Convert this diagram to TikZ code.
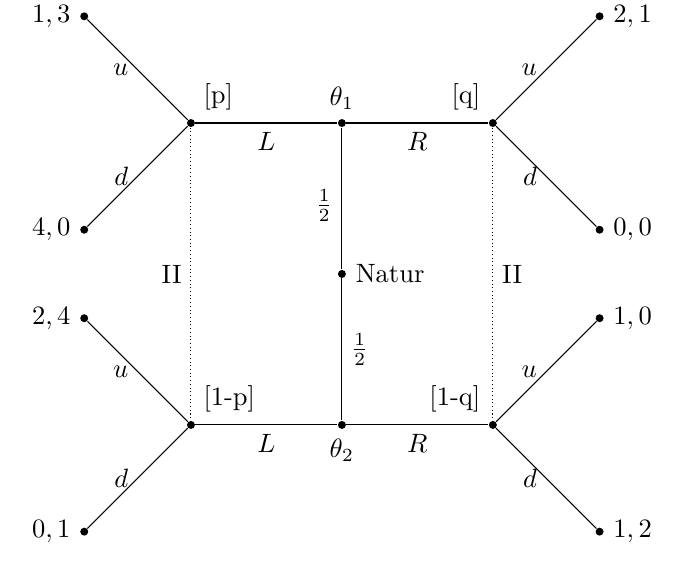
\documentclass[tikz,border=0pt]{standalone}
\begin{document}
\begin{tikzpicture}
        \tikzset{
            dot/.style={circle, fill=black, inner sep=0pt, minimum size=3pt},
            c1/.style={-},
            c2/.style={densely dotted}
            }
            \useasboundingbox (-4.53,-3.82) rectangle (4.40,3.63);

            \node[dot, label=right:Natur] (n0) at (0,0) {};
            \node[dot, label=above:$\theta_1$] (n1) at (0,2) {};
            \node[dot, label=below:$\theta_2$] (n2) at (0,-2) {};
            \node[dot, label={above right:{[p]}}] (n3) at (-2,2) {};
            \node[dot, label={above left:{[q]}}] (n4) at (2,2) {};
            \node[dot, label={above right:{[1-p]}}] (n5) at (-2,-2) {};
            \node[dot, label={above left:{[1-q]}}] (n6) at (2,-2) {};
            \node[dot, label=left:{$1,3$}] (n7) at (-3.414,3.414) {};
            \node[dot, label=left:{$4,0$}] (n8) at (-3.414,0.586) {};
            \node[dot, label=right:{$2,1$}] (n9) at (3.414,3.414) {};
            \node[dot, label=right:{$0,0$}] (n10) at (3.414,0.586) {};
            \node[dot, label=left:{$2,4$}] (n11) at (-3.414,-0.586) {};
            \node[dot, label=left:{$0,1$}] (n12) at (-3.414,-3.414) {};
            \node[dot, label=right:{$1,0$}] (n13) at (3.414,-0.586) {};
            \node[dot, label=right:{$1,2$}] (n14) at (3.414,-3.414) {};

            \draw[c1] (n3) to node[below]{$L$} (n1);
            \draw[c1] (n1) to node[below]{$R$} (n4);
            \draw[c1] (n5) to node[below]{$L$} (n2);
            \draw[c1] (n2) to node[below]{$R$} (n6);
            \draw[c1] (n1) to node[pos=0.55,left]{$\frac{1}{2}$} (n0);
            \draw[c1] (n0) to node[right]{$\frac{1}{2}$} (n2);
            \draw[c2] (n3) to node[left]{II} (n5);
            \draw[c2] (n4) to node[right]{II} (n6);
            \draw[c1] (n3) to node[left]{$u$} (n7);
            \draw[c1] (n3) to node[left]{$d$} (n8);
            \draw[c1] (n4) to node[left]{$u$} (n9);
            \draw[c1] (n4) to node[left]{$d$} (n10);
            \draw[c1] (n5) to node[left]{$u$} (n11);
            \draw[c1] (n5) to node[left]{$d$} (n12);
            \draw[c1] (n6) to node[left]{$u$} (n13);
            \draw[c1] (n6) to node[left]{$d$} (n14);
        \end{tikzpicture}
\end{document}
